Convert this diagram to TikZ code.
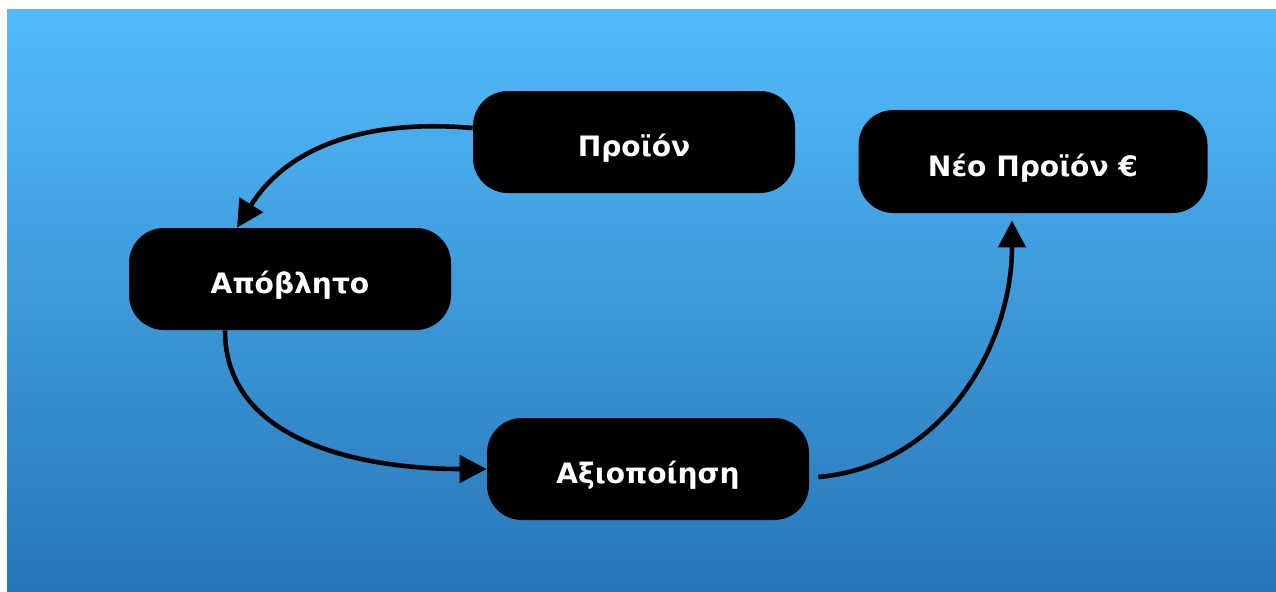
\documentclass[tikz,border=0pt]{standalone}
\usepackage{fontspec}
\setmainfont{DejaVu Sans}
\usetikzlibrary{arrows.meta}
\definecolor{skytop}{RGB}{82,188,250}
\definecolor{skybottom}{RGB}{40,118,183}
\begin{document}
\begin{tikzpicture}[
  box/.style={rounded corners=0.7cm, fill=black, text=white, minimum width=6.44cm,
    minimum height=2.04cm, text height=17pt, text depth=0pt,
    font=\fontsize{16}{19}\selectfont\bfseries},
  flow/.style={line width=2.6pt, -{Triangle[length=0.54cm, width=0.54cm]}}]
\useasboundingbox (0,0) rectangle (25.52,-11.82);
\fill[top color=skytop, bottom color=skybottom] (0.14,-0.18) rectangle (25.52,-11.82);
\node[box] (prod) at (12.68,-2.84){Προϊόν};
\node[box] (waste) at (5.80,-5.58){Απόβλητο};
\node[box] (reuse) at (12.96,-9.38){Αξιοποίηση};
\node[box, minimum width=6.98cm, minimum height=2.06cm] (newprod) at (20.66,-3.23){Νέο Προϊόν €};
\draw[flow] ([yshift=0.28cm]prod.west) to[out=175, in=58] ([xshift=-1.06cm]waste.north);
\draw[flow] ([xshift=-1.3cm]waste.south) to[out=-90, in=180] (reuse.west);
\draw[flow] ([xshift=0.18cm, yshift=-0.16cm]reuse.east) to[out=5, in=-90] ([xshift=-0.42cm, yshift=-0.14cm]newprod.south);
\end{tikzpicture}
\end{document}
